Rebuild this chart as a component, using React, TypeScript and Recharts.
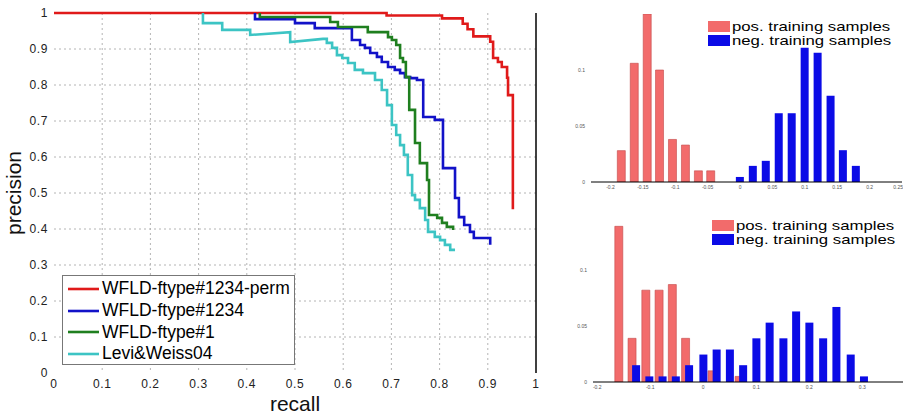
import React from 'react';
import { LineChart, Line, XAxis, YAxis, CartesianGrid, ReferenceLine, Legend, BarChart, Bar } from 'recharts';

const FONT = '"Liberation Sans", Arial, Helvetica, sans-serif';

// ---------- main precision / recall plot ----------
const recallTicks = [0, 0.1, 0.2, 0.3, 0.4, 0.5, 0.6, 0.7, 0.8, 0.9, 1];
const precisionTicks = [0, 0.1, 0.2, 0.3, 0.4, 0.5, 0.6, 0.7, 0.8, 0.9, 1];
const gridValues = [0.1, 0.2, 0.3, 0.4, 0.5, 0.6, 0.7, 0.8, 0.9];

const permCurve: [number, number][] = [
  [0, 1.0], [0.69, 1.0], [0.69, 0.993], [0.805, 0.993], [0.805, 0.985], [0.848, 0.985],
  [0.848, 0.97], [0.858, 0.97], [0.858, 0.955], [0.87, 0.955], [0.87, 0.935], [0.905, 0.935],
  [0.905, 0.92], [0.911, 0.92], [0.911, 0.875], [0.921, 0.875], [0.921, 0.864], [0.929, 0.864],
  [0.929, 0.85], [0.94, 0.85], [0.94, 0.82], [0.942, 0.82], [0.942, 0.772], [0.952, 0.772],
  [0.952, 0.455],
];

const allTypesCurve: [number, number][] = [
  [0.417, 1.0], [0.417, 0.983], [0.5, 0.983], [0.5, 0.972], [0.541, 0.972], [0.541, 0.958],
  [0.618, 0.958], [0.618, 0.925], [0.635, 0.925], [0.635, 0.911], [0.645, 0.911], [0.645, 0.903],
  [0.656, 0.903], [0.656, 0.889], [0.67, 0.889], [0.67, 0.878], [0.68, 0.878], [0.68, 0.864],
  [0.693, 0.864], [0.693, 0.85], [0.707, 0.85], [0.707, 0.842], [0.718, 0.842], [0.718, 0.833],
  [0.728, 0.833], [0.728, 0.822], [0.739, 0.822], [0.739, 0.819], [0.753, 0.819], [0.753, 0.814],
  [0.766, 0.814], [0.766, 0.711], [0.79, 0.711], [0.79, 0.703], [0.807, 0.703], [0.807, 0.569],
  [0.832, 0.569], [0.832, 0.486], [0.84, 0.486], [0.84, 0.433], [0.851, 0.433], [0.851, 0.411],
  [0.863, 0.411], [0.863, 0.392], [0.871, 0.392], [0.871, 0.375], [0.905, 0.375], [0.905, 0.356],
];

const type1Curve: [number, number][] = [
  [0.427, 1.0], [0.427, 0.989], [0.573, 0.989], [0.573, 0.975], [0.589, 0.975], [0.589, 0.961],
  [0.651, 0.961], [0.651, 0.947], [0.693, 0.947], [0.693, 0.933], [0.701, 0.933], [0.701, 0.925],
  [0.71, 0.925], [0.71, 0.911], [0.718, 0.911], [0.718, 0.875], [0.724, 0.875], [0.724, 0.864],
  [0.73, 0.864], [0.73, 0.822], [0.737, 0.822], [0.737, 0.731], [0.749, 0.731], [0.749, 0.639],
  [0.759, 0.639], [0.759, 0.583], [0.774, 0.583], [0.774, 0.536], [0.778, 0.536], [0.778, 0.439],
  [0.795, 0.439], [0.795, 0.431], [0.805, 0.431], [0.805, 0.417], [0.815, 0.417], [0.815, 0.406],
  [0.828, 0.406], [0.828, 0.397],
];

const leviWeissCurve: [number, number][] = [
  [0.309, 1.0], [0.309, 0.972], [0.349, 0.972], [0.349, 0.953], [0.407, 0.953], [0.407, 0.939],
  [0.49, 0.947], [0.49, 0.919], [0.558, 0.928], [0.566, 0.928], [0.566, 0.917], [0.577, 0.917],
  [0.577, 0.903], [0.587, 0.903], [0.587, 0.883], [0.598, 0.883], [0.598, 0.875], [0.61, 0.875],
  [0.61, 0.861], [0.624, 0.861], [0.624, 0.842], [0.641, 0.842], [0.641, 0.833], [0.666, 0.833],
  [0.666, 0.814], [0.68, 0.814], [0.68, 0.786], [0.691, 0.786], [0.691, 0.744], [0.701, 0.744],
  [0.701, 0.689], [0.71, 0.689], [0.71, 0.661], [0.718, 0.661], [0.718, 0.633], [0.726, 0.633],
  [0.726, 0.606], [0.734, 0.606], [0.734, 0.55], [0.743, 0.55], [0.743, 0.494], [0.749, 0.494],
  [0.749, 0.481], [0.759, 0.481], [0.759, 0.458], [0.77, 0.458], [0.77, 0.425], [0.776, 0.425],
  [0.776, 0.392], [0.79, 0.392], [0.79, 0.378], [0.801, 0.378], [0.801, 0.369], [0.811, 0.369],
  [0.811, 0.356], [0.822, 0.356], [0.822, 0.342], [0.832, 0.342],
];

const seriesNames = ['WFLD-ftype#1234-perm', 'WFLD-ftype#1234', 'WFLD-ftype#1', 'Levi&Weiss04'];
const seriesColors = ['#e01a1a', '#1212c8', '#1f7f1f', '#3cc4c4'];
const seriesCurves = [permCurve, allTypesCurve, type1Curve, leviWeissCurve];

// ---------- histograms ----------
const histYTicks = [0, 0.05, 0.1];

const topXTicks = [-0.2, -0.15, -0.1, -0.05, 0, 0.05, 0.1, 0.15, 0.2, 0.25];
const topPosBins = [-0.183, -0.163, -0.143, -0.124, -0.104, -0.084, -0.064, -0.045];
const topPosFreq = [0.028, 0.106, 0.15, 0.1, 0.038, 0.033, 0.01, 0.01];
const topNegBins = [0.0, 0.02, 0.04, 0.06, 0.08, 0.1, 0.12, 0.14, 0.159, 0.179];
const topNegFreq = [0.0045, 0.0144, 0.0189, 0.0614, 0.0614, 0.1198, 0.1153, 0.077, 0.0284, 0.0144];

const bottomXTicks = [-0.2, -0.1, 0, 0.1, 0.2, 0.3];
const bottomPosBins = [-0.16, -0.135, -0.109, -0.084, -0.059, -0.034, -0.009, 0.016, 0.042, 0.067];
const bottomPosFreq = [0.139, 0.039, 0.082, 0.082, 0.087, 0.039, 0, 0.01, 0, 0.005];
const bottomNegBins = [-0.126, -0.101, -0.076, -0.051, -0.026, 0.001, 0.026, 0.051, 0.076, 0.101,
  0.126, 0.152, 0.176, 0.201, 0.227, 0.252, 0.279, 0.304];
const bottomNegFreq = [0.015, 0.005, 0.005, 0.005, 0.015, 0.0245, 0.029, 0.029, 0.015, 0.039,
  0.053, 0.039, 0.063, 0.053, 0.039, 0.067, 0.0245, 0.005];

const legendLabels = ['pos. training samples', 'neg. training samples'];
const POS_COLOR = '#f26b6b';
const NEG_COLOR = '#0b0be6';

const fmt = (v: number) => String(v);

const MainLegend = (props: any) => {
  const payload = [...(props.payload || [])].sort(
    (a: any, b: any) => seriesNames.indexOf(a.value) - seriesNames.indexOf(b.value)
  );
  return (
    <div style={{ border: '1px solid #777', background: '#fff', width: 233, height: 90, boxSizing: 'border-box', paddingTop: 2, paddingLeft: 5, fontFamily: FONT, fontSize: 17.5, color: '#000' }}>
      {payload.map((e: any) => (
        <div key={e.value} style={{ display: 'flex', alignItems: 'center', height: 21.7, whiteSpace: 'nowrap' }}>
          <svg width={31} height={6} style={{ display: 'block' }}>
            <line x1={0} y1={3} x2={31} y2={3} stroke={e.color} strokeWidth={2.6} />
          </svg>
          <span style={{ marginLeft: 3, lineHeight: '21px' }}>{e.value}</span>
        </div>
      ))}
    </div>
  );
};

function MainChart() {
  return (
    <LineChart width={560} height={415} margin={{ top: 13, right: 24, bottom: 0, left: 10 }}>
      <CartesianGrid stroke="#b4b4b4" strokeDasharray="2 3" horizontalValues={gridValues} verticalValues={gridValues} />
      <XAxis
        dataKey="recall" type="number" domain={[0, 1]} ticks={recallTicks} interval={0}
        axisLine={false} tickLine={false} tickSize={4} tickMargin={2} height={42}
        tickFormatter={fmt}
        tick={{ fontSize: 12, fill: '#222', fontFamily: FONT, letterSpacing: 0.6 }}
        label={{ value: 'recall', position: 'insideBottom', offset: 4, fontSize: 21, fill: '#111', fontFamily: FONT }}
      />
      <YAxis
        type="number" domain={[0, 1]} ticks={precisionTicks} interval={0} width={44}
        axisLine={false} tickLine={false} tickSize={4} tickMargin={2}
        tickFormatter={fmt}
        tick={{ fontSize: 12, fill: '#222', fontFamily: FONT, letterSpacing: 0.6 }}
        label={{ value: 'precision', angle: -90, position: 'insideLeft', offset: 3.5, fontSize: 21, fill: '#111', fontFamily: FONT, style: { textAnchor: 'middle' } }}
      />
      <ReferenceLine x={1} stroke="#000" strokeWidth={1.5} />
      {seriesCurves.map((curve, i) => (
        <Line
          key={seriesNames[i]}
          name={seriesNames[i]}
          data={curve.map(([recall, precision]) => ({ recall, precision }))}
          dataKey="precision"
          type="linear"
          stroke={seriesColors[i]}
          strokeWidth={2.6}
          dot={false}
          activeDot={false}
          isAnimationActive={false}
        />
      ))}
      <Legend
        layout="vertical" align="center" verticalAlign="middle"
        content={<MainLegend />}
        wrapperStyle={{ left: 62, top: 275, width: 233, height: 90 }}
      />
    </LineChart>
  );
}

const makeHistTick = (lastTick: number) => (props: any) => {
  const { x, y, payload } = props;
  const isLast = payload.value === lastTick;
  return (
    <text x={isLast ? x + 1 : x} y={y} dy="0.71em" textAnchor={isLast ? 'end' : 'middle'} fontSize={5} fill="#555" fontFamily={FONT}>
      {fmt(payload.value)}
    </text>
  );
};

type HistProps = {
  left: number; top: number; width: number; height: number;
  yAxisWidth: number; marginRight: number; xAxisHeight: number;
  xDomain: [number, number]; xTicks: number[];
  posBins: number[]; posFreq: number[]; negBins: number[]; negFreq: number[];
  legendLeft: number; legendTop: number;
};

function Histogram(p: HistProps) {
  const posData = p.posBins.map((x, i) => ({ x, freq: p.posFreq[i] }));
  const negData = p.negBins.map((x, i) => ({ x, freq: p.negFreq[i] }));
  const margin = { top: 14, right: p.marginRight, bottom: 0, left: 0 };
  const tickStyle = { fontSize: 5, fill: '#555', fontFamily: FONT };
  const lastTick = p.xTicks[p.xTicks.length - 1];
  const tickNearEdge = p.xDomain[1] - lastTick < 0.02;
  return (
    <div style={{ position: 'absolute', left: p.left, top: p.top, width: p.width, height: p.height }}>
      <div style={{ position: 'absolute', left: 0, top: 0 }}>
        <BarChart width={p.width} height={p.height} data={posData} margin={margin}>
          <XAxis dataKey="x" type="number" domain={p.xDomain} allowDataOverflow ticks={p.xTicks} height={p.xAxisHeight} tick={false} axisLine={false} tickLine={false} />
          <YAxis type="number" domain={[0, 0.15]} allowDataOverflow ticks={histYTicks} width={p.yAxisWidth} tick={false} axisLine={false} tickLine={false} />
          <Bar dataKey="freq" fill={POS_COLOR} stroke="#c24848" strokeWidth={0.6} barSize={8} isAnimationActive={false} />
        </BarChart>
      </div>
      <div style={{ position: 'absolute', left: 0, top: 0 }}>
        <BarChart width={p.width} height={p.height} data={negData} margin={margin}>
          <XAxis dataKey="x" type="number" domain={p.xDomain} allowDataOverflow ticks={p.xTicks} interval={0} height={p.xAxisHeight}
            tickFormatter={fmt} tick={tickNearEdge ? makeHistTick(lastTick) : tickStyle}
            axisLine={{ stroke: '#000', strokeWidth: 1 }} tickLine={false} tickSize={2} tickMargin={1} />
          <YAxis type="number" domain={[0, 0.15]} allowDataOverflow ticks={histYTicks} interval={0} width={p.yAxisWidth}
            tickFormatter={fmt} tick={tickStyle} axisLine={false} tickLine={false} tickSize={3} tickMargin={3} />
          <Bar dataKey="freq" fill={NEG_COLOR} barSize={8} isAnimationActive={false} />
        </BarChart>
      </div>
      <div style={{ position: 'absolute', left: p.legendLeft, top: p.legendTop, fontFamily: FONT, fontSize: 13.5, color: '#000' }}>
        {legendLabels.map((label, i) => (
          <div key={label} style={{ display: 'flex', alignItems: 'center', height: 13.5, whiteSpace: 'nowrap' }}>
            <div style={{ width: 22, height: 11, background: i === 0 ? POS_COLOR : NEG_COLOR }} />
            <span style={{ marginLeft: 2, display: 'inline-block', transform: 'scaleX(1.24)', transformOrigin: 'left center', lineHeight: '13px' }}>{label}</span>
          </div>
        ))}
      </div>
    </div>
  );
}

export default function App() {
  return (
    <div style={{ position: 'absolute', left: 0, top: 0, width: 903, height: 415, background: '#fff', overflow: 'hidden' }}>
      <div style={{ position: 'absolute', left: 0, top: 0 }}>
        <MainChart />
      </div>
      <Histogram
        left={560} top={0} width={343} height={200}
        yAxisWidth={31} marginRight={1} xAxisHeight={18}
        xDomain={[-0.23, 0.25]} xTicks={topXTicks}
        posBins={topPosBins} posFreq={topPosFreq} negBins={topNegBins} negFreq={topNegFreq}
        legendLeft={148} legendTop={20}
      />
      <Histogram
        left={560} top={200} width={343} height={215}
        yAxisWidth={33} marginRight={0} xAxisHeight={33}
        xDomain={[-0.208, 0.377]} xTicks={bottomXTicks}
        posBins={bottomPosBins} posFreq={bottomPosFreq} negBins={bottomNegBins} negFreq={bottomNegFreq}
        legendLeft={152} legendTop={19}
      />
    </div>
  );
}
